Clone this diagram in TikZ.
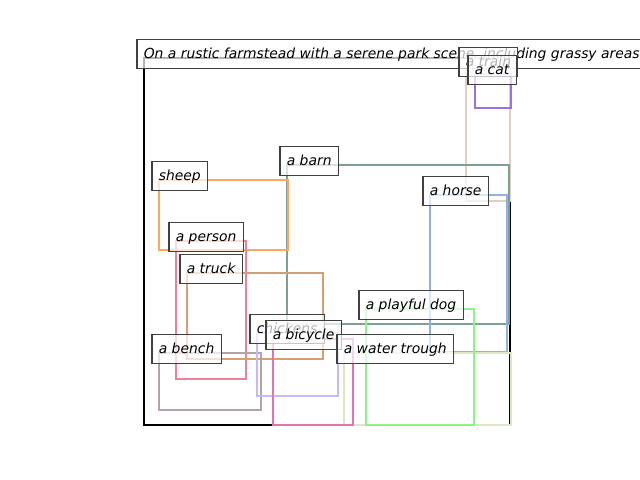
\documentclass[tikz,border=0pt]{standalone}
\usepackage{fontspec}
\setmainfont{DejaVu Sans}
\begin{document}
\begin{tikzpicture}[x=0.72pt,y=-0.72pt,
  lbl/.style={draw=black!75, line width=0.75pt, fill=white, fill opacity=0.7, text opacity=1,
    font=\itshape\fontsize{10}{12}\selectfont, inner xsep=4.9pt, inner ysep=0pt,
    minimum height=20.2pt, text height=8pt, text depth=2.24pt, outer sep=0pt, anchor=base west},
  bx/.style={line width=1.9pt},
  frame/.style={draw=black, line width=2pt}]
\definecolor{ccat}{HTML}{9B6FE8}
\definecolor{ctrain}{HTML}{DDD0C0}
\definecolor{cbarn}{HTML}{7FA091}
\definecolor{chorse}{HTML}{8CB2E8}
\definecolor{csheep}{HTML}{FFA462}
\definecolor{cperson}{HTML}{F08098}
\definecolor{ctruck}{HTML}{D4A072}
\definecolor{cbench}{HTML}{B2A2AA}
\definecolor{cchick}{HTML}{C4BAFA}
\definecolor{cbike}{HTML}{E272B0}
\definecolor{ctrough}{HTML}{DAE8C4}
\definecolor{cdog}{HTML}{8AF48A}
\useasboundingbox (0,0) rectangle (640,480);
% frame
\draw[frame] (144,58) rectangle (510,425);
% boxes
\draw[bx, draw=ctrain] (466,66) rectangle (510,201);
\draw[bx, draw=ccat] (475,74) rectangle (511,108);
\draw[bx, draw=cbarn] (287,165) rectangle (509,324);
\draw[bx, draw=chorse] (430,195) rectangle (507,352);
\draw[bx, draw=csheep] (159,180) rectangle (288,250);
\draw[bx, draw=cperson] (176,241) rectangle (246,379);
\draw[bx, draw=ctruck] (187,273) rectangle (323,359);
\draw[bx, draw=cbench] (159,353) rectangle (261,410);
\draw[bx, draw=cchick] (257,333) rectangle (338,396);
\draw[bx, draw=ctrough] (344,353) rectangle (511,425);
\draw[bx, draw=cbike] (273,339) rectangle (353,425);
\draw[bx, draw=cdog] (366,309) rectangle (474,425);
% caption and labels
\node[lbl] (cap) at (137,58) {On a rustic farmstead with a serene park scene, including grassy areas};
\node[lbl] (ltrain) at (459,66) {a train};
\node[lbl] (lcat) at (468,74) {a cat};
\node[lbl] (lbarn) at (280,165) {a barn};
\node[lbl] (lhorse) at (423,195) {a horse};
\node[lbl] (lsheep) at (152,180) {sheep};
\node[lbl] (lperson) at (169,241) {a person};
\node[lbl] (ltruck) at (180,273) {a truck};
\node[lbl] (ldog) at (359,309) {a playful dog};
\node[lbl] (lchick) at (250,333) {chickens};
\node[lbl] (lbike) at (266,339) {a bicycle};
\node[lbl] (lbench) at (152,353) {a bench};
\node[lbl] (ltrough) at (337,353) {a water trough};
\end{tikzpicture}
\end{document}
